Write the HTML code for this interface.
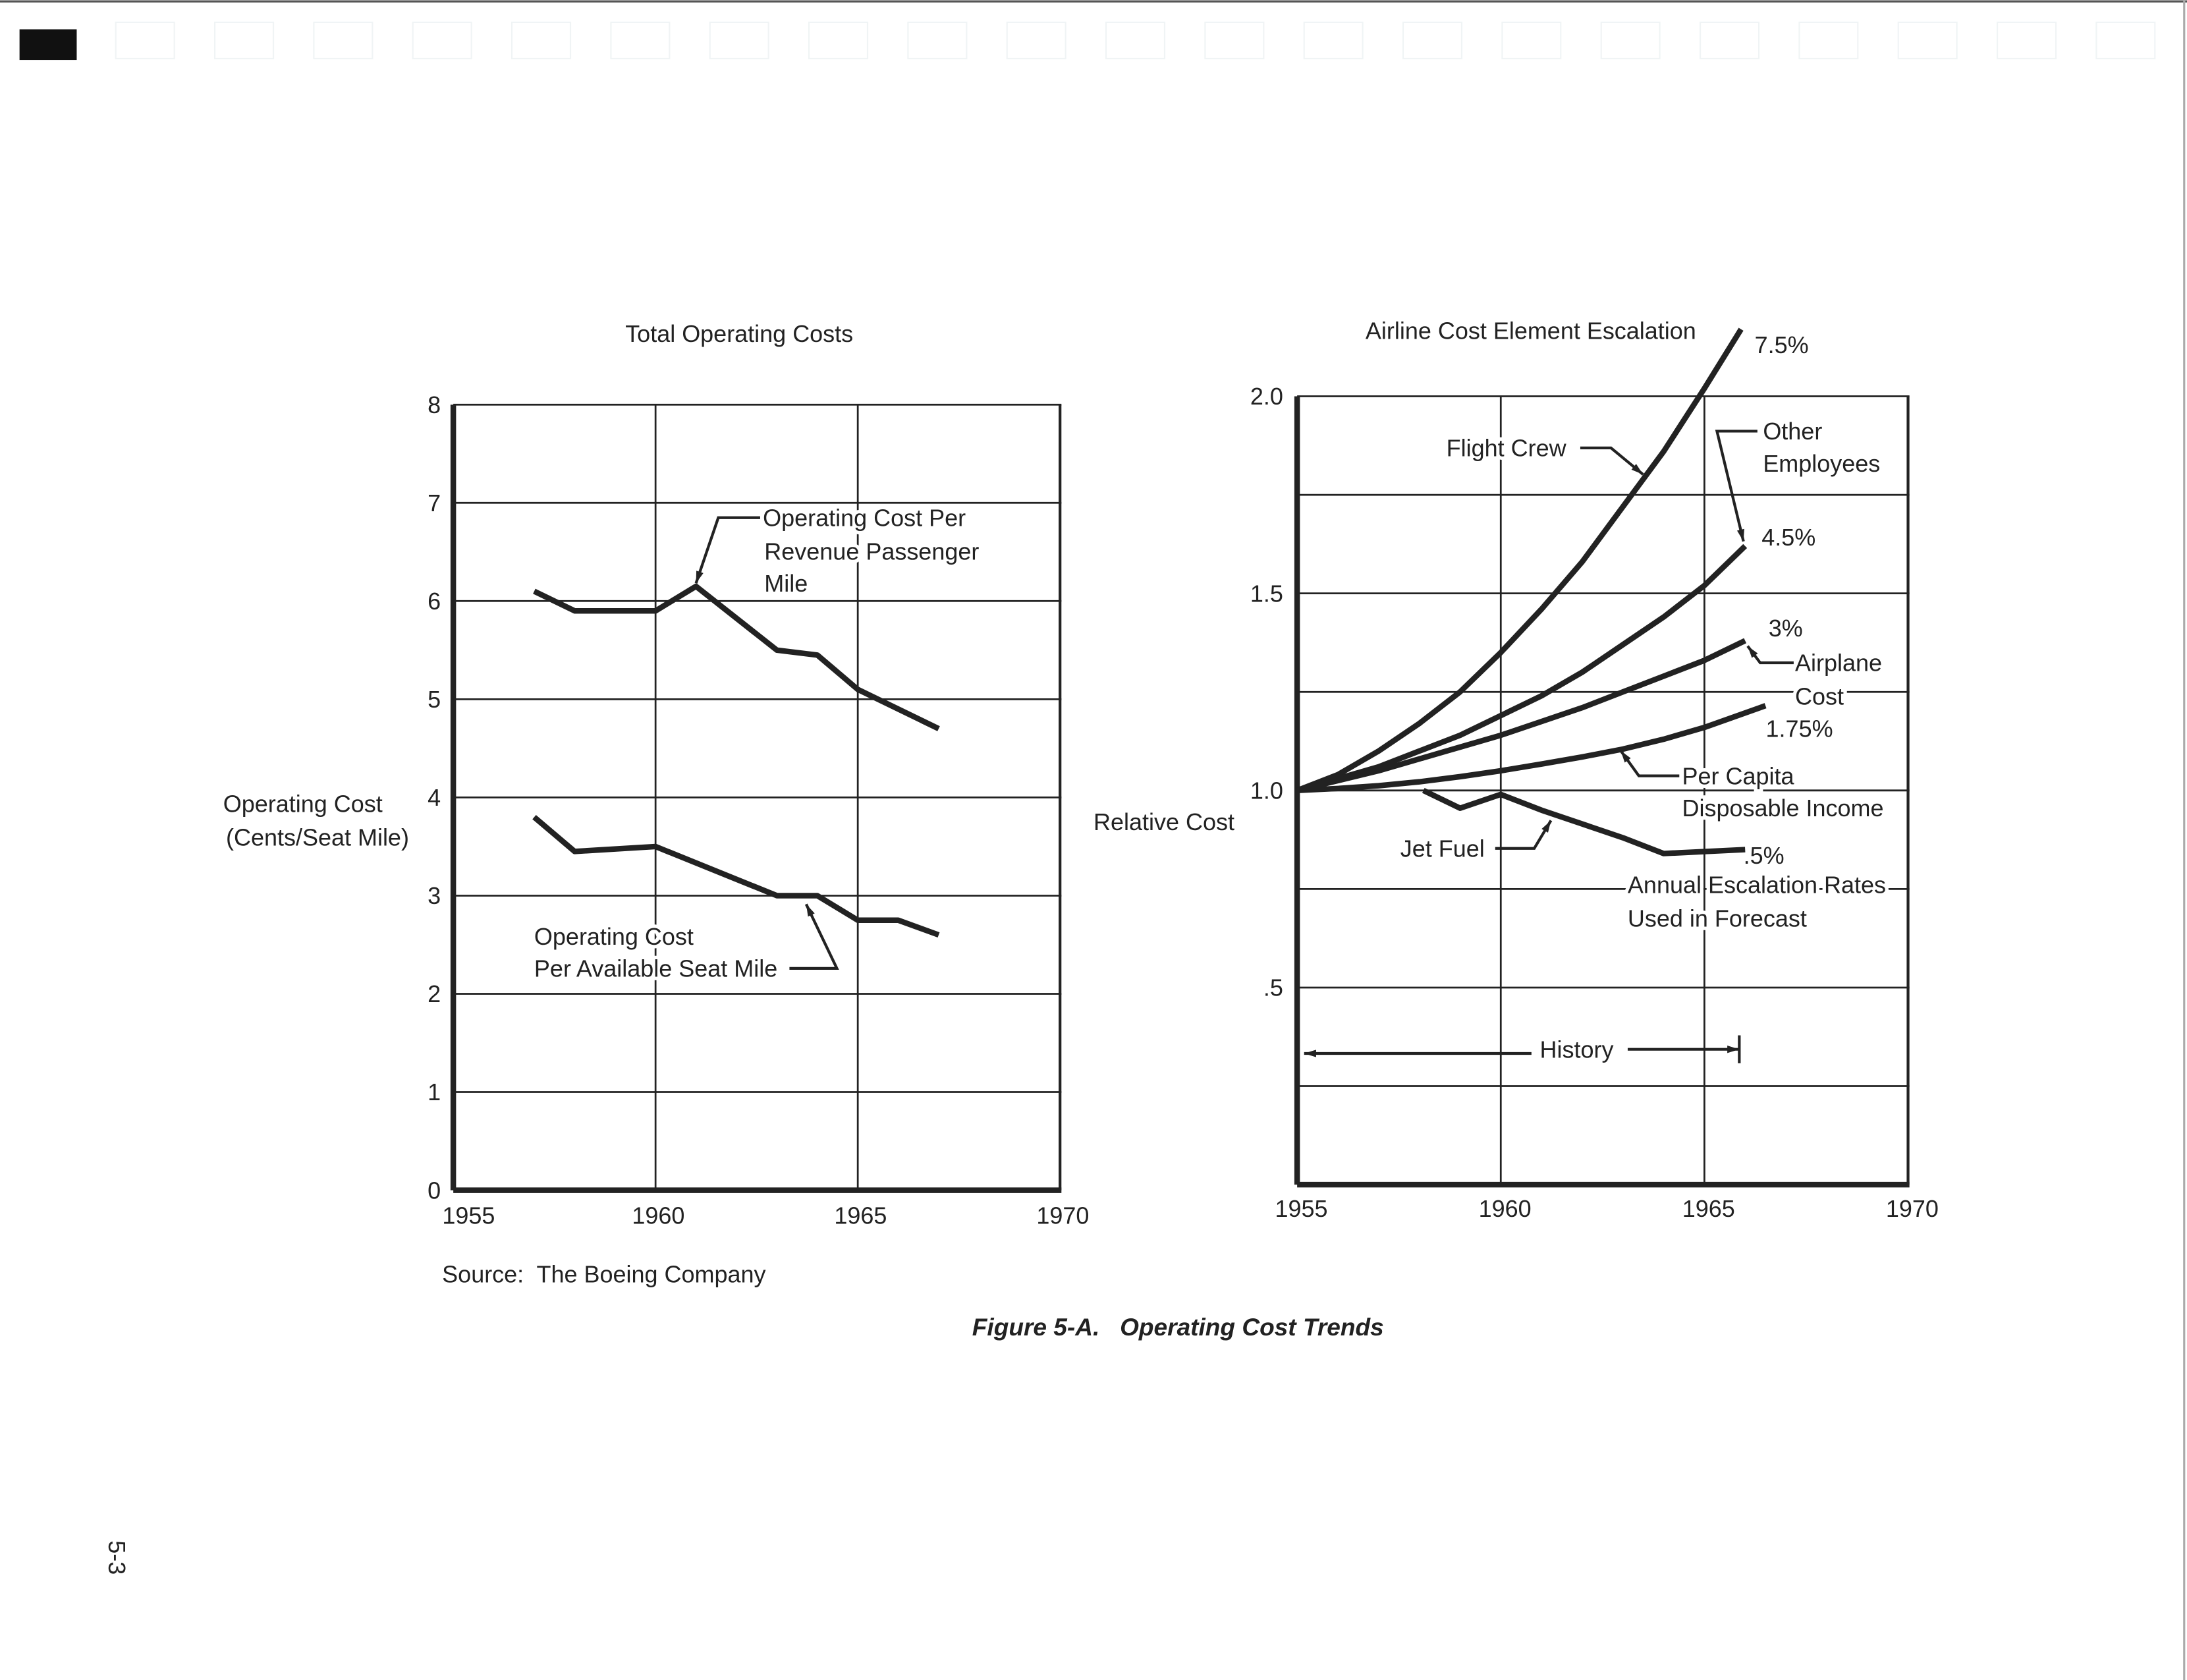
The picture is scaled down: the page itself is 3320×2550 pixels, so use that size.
<!DOCTYPE html>
<html><head><meta charset="utf-8"><style>
html,body{margin:0;padding:0;background:#fff;}
svg{display:block;}
text{font-family:"Liberation Sans",sans-serif;fill:#222;}
.lbl{font-size:17px;paint-order:stroke;stroke:#fff;stroke-width:5px;}
.tk{font-size:17px;}
</style></head><body>
<svg id="fig" width="3320" height="2550" viewBox="0 0 1568 1204" preserveAspectRatio="none" xmlns="http://www.w3.org/2000/svg">
<rect x="0" y="0" width="1568" height="1204" fill="#fff"/>
<line x1="0" y1="1" x2="1568" y2="1" stroke="#555" stroke-width="1.5"/>
<line x1="1566" y1="0" x2="1566" y2="1204" stroke="#aaa" stroke-width="1.5"/>
<rect x="14" y="21" width="41" height="22" fill="#111"/>
<g id="boxes"></g>
<text class="tk" transform="translate(78,1104) rotate(90)">5-3</text>

<g id="left"></g>
<g id="right"></g>

<text class="tk" x="530" y="245" text-anchor="middle">Total Operating Costs</text>
<text class="tk" x="160" y="582">Operating Cost</text>
<text class="tk" x="162" y="606">(Cents/Seat Mile)</text>
<text class="tk" x="317" y="919" xml:space="preserve" style="white-space:pre">Source:  The Boeing Company</text>
<text x="697" y="957" xml:space="preserve" style="font-size:17.5px;font-style:italic;font-weight:bold;white-space:pre">Figure 5-A.   Operating Cost Trends</text>
<text class="tk" x="979" y="243">Airline Cost Element Escalation</text>
<text class="tk" x="784" y="595">Relative Cost</text>
</svg>
<script>
// ---------- data: left chart ----------
const leftYTicks = [0,1,2,3,4,5,6,7,8];
const leftXTicks = [1955,1960,1965,1970];
const rpmYears = [1957,1958,1960,1961,1963,1964,1965,1967];
const rpmValues = [6.1,5.9,5.9,6.15,5.5,5.45,5.1,4.7];
const asmYears = [1957,1958,1960,1963,1964,1965,1966,1967];
const asmValues = [3.8,3.45,3.5,3.0,3.0,2.75,2.75,2.6];
// ---------- data: right chart ----------
const rightYTicks = [0,0.25,0.5,0.75,1.0,1.25,1.5,1.75,2.0];
const rightYLabels = ["","",".5","","1.0","","1.5","","2.0"];
const rightXTicks = [1955,1960,1965,1970];
const crewYears = [1955,1956,1957,1958,1959,1960,1961,1962,1963,1964,1965,1965.9];
const crewValues = [1.0,1.04,1.1,1.17,1.25,1.35,1.46,1.58,1.72,1.86,2.02,2.17];
const empYears = [1955,1956,1957,1958,1959,1960,1961,1962,1963,1964,1965,1966];
const empValues = [1.0,1.03,1.06,1.1,1.14,1.19,1.24,1.3,1.37,1.44,1.52,1.62];
const planeYears = [1955,1956,1957,1958,1959,1960,1961,1962,1963,1964,1965,1966];
const planeValues = [1.0,1.025,1.05,1.08,1.11,1.14,1.175,1.21,1.25,1.29,1.33,1.38];
const incomeYears = [1955,1956,1957,1958,1959,1960,1961,1962,1963,1964,1965,1966.5];
const incomeValues = [1.0,1.005,1.012,1.022,1.035,1.05,1.067,1.085,1.105,1.13,1.16,1.215];
const fuelYears = [1958.1,1959,1960,1961,1962,1963,1964,1965,1966];
const fuelValues = [1.0,0.955,0.99,0.95,0.915,0.88,0.84,0.845,0.85];

const NS="http://www.w3.org/2000/svg";
function mk(tag, attrs, parent){const e=document.createElementNS(NS,tag);for(const k in attrs)e.setAttribute(k,attrs[k]);parent.appendChild(e);return e;}

const bx=document.getElementById('boxes');
for(let i=0;i<21;i++){
  const r=mk('rect',{x:83+i*71,y:16,width:42,height:26,fill:'none',stroke:'#f0f4f5','stroke-width':1},bx);
  
  
}

// ---------- left chart ----------
const L=document.getElementById('left');
const lx=y=>325+(y-1955)/15*435, ly=v=>853-v/8*563;
leftYTicks.forEach(v=>{
  const g=mk('line',{x1:325,x2:761,y1:ly(v),y2:ly(v),stroke:'#222','stroke-width':v===0?4:1.3},L);
  
  
  const t=mk('text',{x:316,y:ly(v)+6,'text-anchor':'end',class:'tk'},L);t.textContent=v;
  
  
});
leftXTicks.forEach(y=>{
  const g=mk('line',{x1:lx(y),x2:lx(y),y1:ly(8),y2:ly(0),stroke:'#222','stroke-width':(y===1955)?4:(y===1970?2:1.3)},L);
  
  
  const t=mk('text',{x:lx(y)+(y===1955?11:2),y:877,'text-anchor':'middle',class:'tk'},L);t.textContent=y;
  
  
});
function series(parent,xs,vs,fx,fy,name,w){
  const p=mk('polyline',{points:xs.map((x,i)=>fx(x)+','+fy(vs[i])).join(' '),fill:'none',stroke:'#222','stroke-width':w||4,'stroke-linejoin':'round'},parent);
  
  
}
function txt(parent,x,y,s,name,anchor){const t=mk('text',{x:x,y:y,class:'lbl','text-anchor':anchor||'start'},parent);t.textContent=s;
  
  return t;}
function leader(parent,pts,name){
  const p=mk('polyline',{points:pts.map(q=>q.join(',')).join(' '),fill:'none',stroke:'#222','stroke-width':2},parent);
  
  
  const a=pts[pts.length-1],b=pts[pts.length-2];const ang=Math.atan2(a[1]-b[1],a[0]-b[0]);
  const h=mk('polygon',{points:[a,[a[0]-9*Math.cos(ang-0.3),a[1]-9*Math.sin(ang-0.3)],[a[0]-9*Math.cos(ang+0.3),a[1]-9*Math.sin(ang+0.3)]].map(q=>q.join(',')).join(' '),fill:'#222'},parent);
  
  
}
txt(L,547,377,'Operating Cost Per','rpm-label-1');
txt(L,548,401,'Revenue Passenger','rpm-label-2');
txt(L,548,424,'Mile','rpm-label-3');
txt(L,383,677,'Operating Cost','asm-label-1');
txt(L,383,700,'Per Available Seat Mile','asm-label-2');
series(L,rpmYears,rpmValues,lx,ly,'rpm-cost-line');
series(L,asmYears,asmValues,lx,ly,'asm-cost-line');
leader(L,[[545,371],[515,371],[499,418]],'rpm-leader');
leader(L,[[566,694],[600,694],[578,648]],'asm-leader');

// ---------- right chart ----------
const R=document.getElementById('right');
const rx=y=>930+(y-1955)/15*438, ry=v=>849-v/2*565;
rightYTicks.forEach((v,i)=>{
  const g=mk('line',{x1:930,x2:1369,y1:ry(v),y2:ry(v),stroke:'#222','stroke-width':v===0?4:1.3},R);
  
  
  if(rightYLabels[i]){const t=mk('text',{x:920,y:ry(v)+6,'text-anchor':'end',class:'tk'},R);t.textContent=rightYLabels[i];
  
  }
});
rightXTicks.forEach(y=>{
  const g=mk('line',{x1:rx(y),x2:rx(y),y1:ry(2),y2:ry(0),stroke:'#222','stroke-width':(y===1955)?4:(y===1970?2:1.3)},R);
  
  
  const t=mk('text',{x:rx(y)+3,y:872,'text-anchor':'middle',class:'tk'},R);t.textContent=y;
  
  
});
txt(R,1037,327,'Flight Crew','flight-crew-label');
txt(R,1258,253,'7.5%','flight-crew-rate');
txt(R,1264,315,'Other','other-employees-label-1');
txt(R,1264,338,'Employees','other-employees-label-2');
txt(R,1263,391,'4.5%','other-employees-rate');
txt(R,1268,456,'3%','airplane-rate');
txt(R,1287,481,'Airplane','airplane-label-1');
txt(R,1287,505,'Cost','airplane-label-2');
txt(R,1266,528,'1.75%','income-rate');
txt(R,1206,562,'Per Capita','income-label-1');
txt(R,1206,585,'Disposable Income','income-label-2');
txt(R,1004,614,'Jet Fuel','jet-fuel-label');
txt(R,1250,619,'.5%','jet-fuel-rate');
txt(R,1167,640,'Annual Escalation Rates','rates-note-1');
txt(R,1167,664,'Used in Forecast','rates-note-2');
txt(R,1104,758,'History','history-label');
series(R,crewYears,crewValues,rx,ry,'flight-crew-line');
series(R,empYears,empValues,rx,ry,'other-employees-line');
series(R,planeYears,planeValues,rx,ry,'airplane-cost-line');
series(R,incomeYears,incomeValues,rx,ry,'per-capita-income-line');
series(R,fuelYears,fuelValues,rx,ry,'jet-fuel-line');
leader(R,[[1133,321],[1155,321],[1178,340]],'flight-crew-leader');
leader(R,[[1260,309],[1231,309],[1250,388]],'other-employees-leader');
leader(R,[[1286,475],[1262,475],[1253,463]],'airplane-leader');
leader(R,[[1204,556],[1175,556],[1162,538]],'income-leader');
leader(R,[[1072,608],[1100,608],[1112,588]],'jet-fuel-leader');
leader(R,[[1098,755],[935,755]],'history-arrow-left');
leader(R,[[1167,752],[1247,752]],'history-arrow-right');
const tk=mk('line',{x1:1247,x2:1247,y1:742,y2:762,stroke:'#222','stroke-width':2},R);


</script>
</body></html>
